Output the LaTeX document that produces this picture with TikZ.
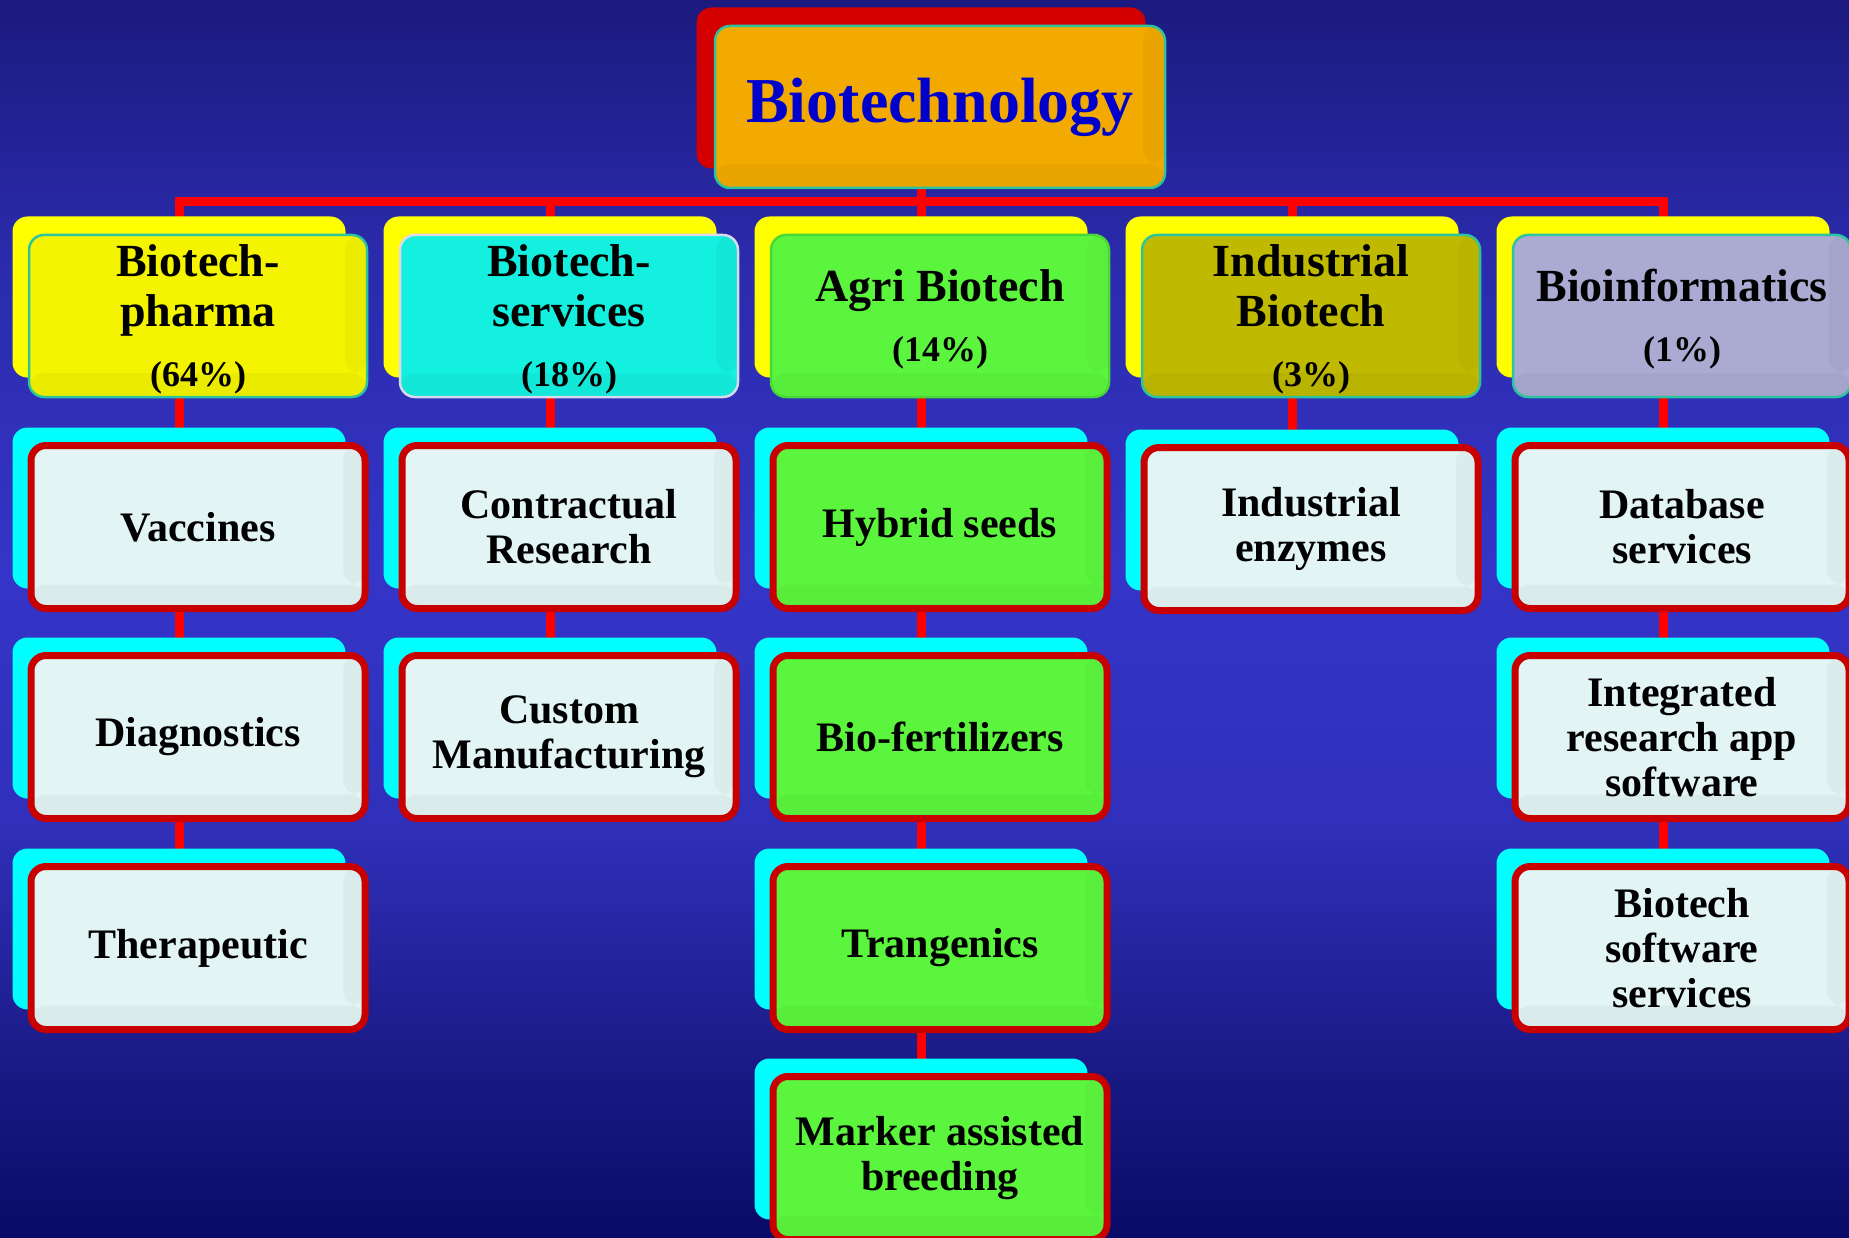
\documentclass[tikz,border=0pt]{standalone}
\usepackage{fontspec}
\setmainfont{Liberation Serif}
\usetikzlibrary{positioning,backgrounds,calc}

\pgfdeclarelayer{shade}
\pgfsetlayers{background,shade,main}

\definecolor{linkred}{HTML}{FF0000}
\definecolor{boxred}{HTML}{C80000}
\definecolor{rimteal}{HTML}{2CC4A0}
\definecolor{servrim}{HTML}{D8D8F0}
\definecolor{agririm}{HTML}{48D838}
\definecolor{topgold}{HTML}{F2AA00}
\definecolor{topback}{HTML}{D40000}
\definecolor{textblue}{HTML}{0000CC}
\definecolor{pharmayellow}{HTML}{F4F400}
\definecolor{backyellow}{HTML}{FFFF00}
\definecolor{servcyan}{HTML}{14F0E0}
\definecolor{agrigreen}{HTML}{5CF53E}
\definecolor{indolive}{HTML}{BFBA00}
\definecolor{infolilac}{HTML}{AAAAD2}
\definecolor{leafwhite}{HTML}{E2F4F4}
\definecolor{backcyan}{HTML}{00FFFF}

% dark navy at both ends, bright blue in the middle (visible part is 25bp..75bp)
\pgfdeclareverticalshading{backdrop}{100bp}{
    color(0bp)=(rgb,255:red,10;green,10;blue,104);
    color(25bp)=(rgb,255:red,10;green,10;blue,104);
    color(32bp)=(rgb,255:red,26;green,26;blue,134);
    color(42bp)=(rgb,255:red,48;green,48;blue,188);
    color(52bp)=(rgb,255:red,52;green,52;blue,200);
    color(65bp)=(rgb,255:red,42;green,42;blue,170);
    color(75bp)=(rgb,255:red,28;green,26;blue,126);
    color(100bp)=(rgb,255:red,28;green,26;blue,126)}

\newcommand\topfont{\fontsize{64}{70}\selectfont\bfseries}
\newcommand\catfont{\fontsize{46}{50}\selectfont\bfseries}
\newcommand\pctfont{\fontsize{36}{50}\selectfont}
\newcommand\leaffont{\fontsize{42}{45}\selectfont\bfseries}
\newcommand\catlead{\rule{0pt}{39pt}}% pushes sector text a little down

\begin{document}
\begin{tikzpicture}[x=1pt, y=-1pt,
    cardback/.style={rectangle, rounded corners=15pt, minimum width=333pt, minimum height=161pt, inner sep=0pt, fill=#1},
    cardfront/.style={rectangle, rounded corners=15pt, inner sep=0pt, align=center, fill=#1,
      path picture={
        \fill[black, opacity=0.035] ([yshift=24pt]path picture bounding box.south west) rectangle (path picture bounding box.south east);
        \fill[black, opacity=0.03] ([xshift=-22pt]path picture bounding box.north east) rectangle ([yshift=24pt]path picture bounding box.south east);}},
    cardtop/.style={cardfront=topgold, draw=rimteal, line width=2.5pt, minimum width=450pt, minimum height=162pt, text=textblue, font=\topfont},
    cardcat/.style={cardfront=#1, draw=rimteal, line width=2.5pt, minimum width=338pt, minimum height=162pt, font=\catfont},
    cardleaf/.style={cardfront=#1, draw=boxred, line width=7pt, minimum width=334pt, minimum height=163pt, font=\leaffont},
    cardleaf/.default=leafwhite,
    link/.style={draw=linkred, line width=9pt}]
    \useasboundingbox (0,0) rectangle (1849,1238);

    % Root
    \node[cardtop] (top) at (940,107) {Biotechnology};

    % Sectors
    \node[cardcat=pharmayellow] (pharma) at (198,316) {\catlead Biotech-\\pharma\\[10pt]{\pctfont(64\%)}};
    \node[cardcat=servcyan, draw=servrim] (services) at (569,316) {\catlead Biotech-\\services\\[10pt]{\pctfont(18\%)}};
    \node[cardcat=agrigreen, draw=agririm] (agri) at (940,316) {\catlead Agri Biotech\\[10pt]{\pctfont(14\%)}};
    \node[cardcat=indolive] (indus) at (1311,316) {\catlead Industrial\\Biotech\\[10pt]{\pctfont(3\%)}};
    \node[cardcat=infolilac] (info) at (1682,316) {\catlead Bioinformatics\\[10pt]{\pctfont(1\%)}};

    % Biotech-pharma
    \node[cardleaf] (vacc) at (198,527) {Vaccines};
    \node[cardleaf] (diag) at (198,737) {Diagnostics};
    \node[cardleaf] (thera) at (198,948) {Therapeutic};

    % Biotech-services
    \node[cardleaf] (contract) at (569,527) {Contractual\\Research};
    \node[cardleaf] (custom) at (569,737) {Custom\\Manufacturing};

    % Agri Biotech
    \node[cardleaf=agrigreen] (hybrid) at (940,527) {Hybrid seeds};
    \node[cardleaf=agrigreen] (biofert) at (940,737) {Bio-fertilizers};
    \node[cardleaf=agrigreen] (transg) at (940,948) {Trangenics};
    \node[cardleaf=agrigreen] (marker) at (940,1158) {Marker assisted\\breeding};

    % Industrial Biotech
    \node[cardleaf] (enzymes) at (1311,529) {Industrial\\enzymes};

    % Bioinformatics
    \node[cardleaf] (database) at (1682,527) {Database\\services};
    \node[cardleaf] (integ) at (1682,737) {Integrated\\research app\\software};
    \node[cardleaf] (bsoft) at (1682,948) {Biotech\\software\\services};

    % Offset cards behind
    \begin{pgfonlayer}{shade}
        \node[cardback=topback, minimum width=449pt] (top-b) at ($(top)+(-19,-19)$) {};
        \foreach \n in {pharma,services,agri,indus,info}
            \node[cardback=backyellow] (\n-b) at ($(\n)+(-19,-19)$) {};
        \foreach \n in {vacc,diag,thera,contract,custom,hybrid,biofert,transg,marker,enzymes,database,integ,bsoft}
            \node[cardback=backcyan] (\n-b) at ($(\n)+(-19,-19)$) {};
    \end{pgfonlayer}

    % Backdrop and connections
    \begin{scope}[on background layer]
        \shade[shading=backdrop] (0,0) rectangle (1849,1238);
        \coordinate (bus) at (921,202);
        \draw[link] (top-b.center) -- (bus);
        \foreach \n in {pharma,services,agri,indus,info}
            \draw[link] (bus) -| (\n-b.center);
        \draw[link] (pharma-b.center) -- (vacc-b.center) -- (diag-b.center) -- (thera-b.center);
        \draw[link] (services-b.center) -- (contract-b.center) -- (custom-b.center);
        \draw[link] (agri-b.center) -- (hybrid-b.center) -- (biofert-b.center) -- (transg-b.center) -- (marker-b.center);
        \draw[link] (indus-b.center) -- (enzymes-b.center);
        \draw[link] (info-b.center) -- (database-b.center) -- (integ-b.center) -- (bsoft-b.center);
    \end{scope}
\end{tikzpicture}
\end{document}
